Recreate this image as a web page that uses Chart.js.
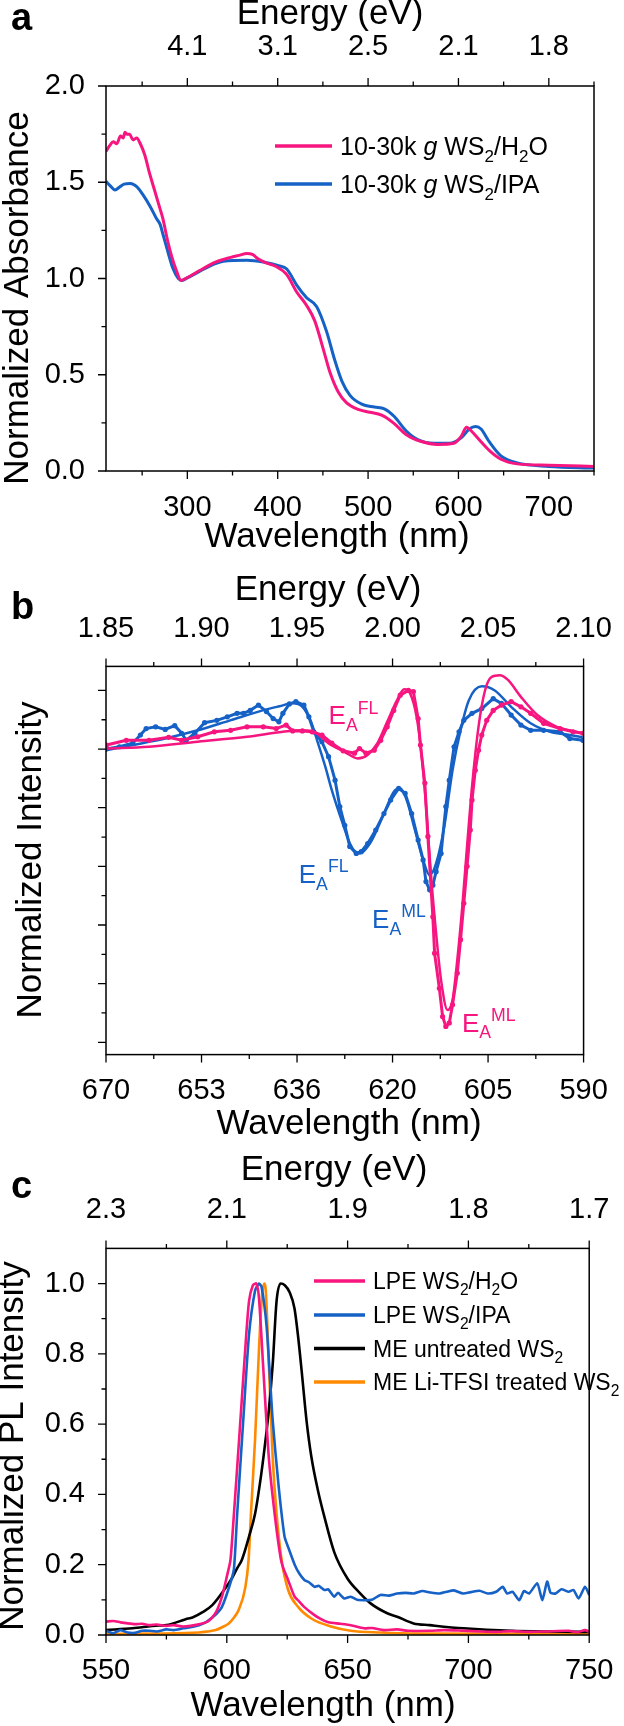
<!DOCTYPE html>
<html>
<head>
<meta charset="utf-8">
<script src="https://cdn.jsdelivr.net/npm/chart.js@4.4.1/dist/chart.umd.min.js"></script>
<style>
  body { margin: 0; background: #fff; }
  canvas { position: absolute; left: 0; }
</style>
</head>
<body>
<canvas id="chartA" width="624" height="560" style="top:0"></canvas>
<canvas id="chartB" width="624" height="590" style="top:560px"></canvas>
<canvas id="chartC" width="624" height="586" style="top:1140px"></canvas>
<script>
// ---- panel a : absorbance ----
const aH2OWave = [210, 214, 218, 222, 226, 229, 231, 233, 236, 240, 244, 248, 253, 258, 263, 268, 273, 278, 283, 288, 293, 300, 313, 331, 348, 357, 366, 372, 379, 388, 397, 410, 421, 432, 441, 450, 458, 467, 476, 489, 502, 515, 529, 542, 559, 577, 595, 603, 609, 614, 623, 634, 647, 665, 700, 750];
const aH2OAbs = [1.66, 1.69, 1.71, 1.70, 1.74, 1.73, 1.76, 1.75, 1.75, 1.72, 1.73, 1.70, 1.64, 1.55, 1.47, 1.39, 1.31, 1.20, 1.11, 1.04, 0.99, 1.005, 1.04, 1.085, 1.11, 1.12, 1.13, 1.125, 1.10, 1.08, 1.065, 1.02, 0.93, 0.86, 0.78, 0.64, 0.51, 0.41, 0.355, 0.32, 0.305, 0.29, 0.246, 0.19, 0.153, 0.138, 0.144, 0.18, 0.227, 0.209, 0.162, 0.107, 0.061, 0.037, 0.03, 0.024];
const aIPAWave = [210, 215, 220, 225, 230, 237, 244, 251, 259, 266, 270, 273, 279, 284, 290, 294, 300, 313, 331, 340, 366, 384, 401, 410, 421, 432, 443, 454, 463, 471, 480, 493, 507, 518, 529, 542, 555, 573, 590, 603, 612, 619, 625, 634, 647, 665, 700, 750];
const aIPAAbs = [1.505, 1.48, 1.46, 1.475, 1.49, 1.494, 1.477, 1.434, 1.373, 1.31, 1.28, 1.23, 1.13, 1.053, 1.0, 0.99, 1.003, 1.036, 1.077, 1.09, 1.095, 1.086, 1.067, 1.049, 0.966, 0.90, 0.855, 0.726, 0.578, 0.467, 0.393, 0.347, 0.332, 0.323, 0.283, 0.209, 0.163, 0.144, 0.144, 0.172, 0.218, 0.231, 0.218, 0.153, 0.079, 0.042, 0.024, 0.015];
const aWaveTicks = [300, 400, 500, 600, 700];
const aWaveMinor = [250, 350, 450, 550, 650, 750];
const aEnergyLabels = ['4.1', '3.1', '2.5', '2.1', '1.8'];
const aAbsTicks = [0, 0.5, 1.0, 1.5, 2.0];
const aAbsMinor = [0.25, 0.75, 1.25, 1.75];

// ---- panel b : energy (eV) vs normalized intensity ----
const bBlueDataE = [1.850, 1.857, 1.864, 1.868, 1.871, 1.876, 1.881, 1.886, 1.8896, 1.892, 1.8965, 1.9016, 1.908, 1.9135, 1.9186, 1.922, 1.9255, 1.9298, 1.934, 1.9375, 1.9405, 1.9426, 1.946, 1.9494, 1.9536, 1.9562, 1.9588, 1.963, 1.9665, 1.9699, 1.9724, 1.975, 1.9776, 1.981, 1.9836, 1.987, 1.9912, 1.9955, 1.999, 2.0032, 2.0066, 2.010, 2.0134, 2.016, 2.0175, 2.0194, 2.0211, 2.0228, 2.0254, 2.0279, 2.0297, 2.0322, 2.0348, 2.0373, 2.0416, 2.0467, 2.0527, 2.057, 2.0621, 2.0672, 2.0723, 2.0791, 2.0877, 2.0928, 2.0996];
const bBlueDataI = [0.00, 0.04, 0.10, 0.24, 0.35, 0.38, 0.335, 0.40, 0.27, 0.15, 0.27, 0.45, 0.49, 0.55, 0.61, 0.61, 0.66, 0.75, 0.64, 0.52, 0.465, 0.61, 0.77, 0.81, 0.75, 0.55, 0.295, 0.125, -0.13, -0.53, -0.98, -1.30, -1.66, -1.78, -1.75, -1.61, -1.38, -1.10, -0.87, -0.67, -0.755, -1.10, -1.55, -1.89, -2.26, -2.40, -2.32, -2.09, -1.78, -0.98, -0.53, 0.04, 0.295, 0.49, 0.61, 0.69, 0.86, 0.78, 0.58, 0.41, 0.32, 0.32, 0.295, 0.18, 0.15];
const bBlueFitE = [1.850, 1.864, 1.881, 1.898, 1.915, 1.932, 1.9408, 1.9477, 1.9528, 1.957, 1.9605, 1.9648, 1.9682, 1.9733, 1.9784, 1.9827, 1.9887, 1.9955, 2.0006, 2.004, 2.0074, 2.0117, 2.016, 2.0194, 2.0228, 2.0271, 2.0314, 2.0356, 2.0399, 2.0467, 2.0535, 2.0621, 2.0723, 2.0826, 2.0928, 2.0996];
const bBlueFitI = [-0.02, 0.07, 0.18, 0.32, 0.49, 0.66, 0.73, 0.78, 0.72, 0.49, 0.15, -0.30, -0.70, -1.21, -1.66, -1.78, -1.58, -1.10, -0.73, -0.67, -0.87, -1.38, -1.89, -2.15, -1.95, -1.32, -0.36, 0.32, 0.83, 1.07, 1.00, 0.72, 0.44, 0.295, 0.24, 0.20];
const bPinkDataE = [1.8503, 1.8606, 1.8725, 1.8828, 1.8896, 1.898, 1.9067, 1.9152, 1.9238, 1.9323, 1.9391, 1.9443, 1.9477, 1.9528, 1.9579, 1.9631, 1.9682, 1.9741, 1.9801, 1.9827, 1.9861, 1.9904, 1.9938, 1.9972, 2.0006, 2.004, 2.0083, 2.0109, 2.0134, 2.0146, 2.0169, 2.0185, 2.0211, 2.022, 2.0245, 2.0262, 2.0279, 2.0297, 2.0314, 2.0339, 2.0356, 2.0373, 2.039, 2.0407, 2.0416, 2.0433, 2.045, 2.0467, 2.0493, 2.0527, 2.057, 2.0621, 2.0672, 2.0723, 2.0791, 2.0877, 2.0945, 2.0996];
const bPinkDataI = [0.07, 0.15, 0.15, 0.20, 0.15, 0.21, 0.295, 0.32, 0.38, 0.38, 0.35, 0.41, 0.31, 0.31, 0.295, 0.24, 0.10, -0.03, -0.07, 0.01, -0.07, -0.02, 0.15, 0.38, 0.66, 0.92, 1.0, 0.98, 0.52, 0.07, -0.58, -1.49, -2.86, -3.48, -4.08, -4.56, -4.73, -4.67, -4.36, -3.82, -3.25, -2.63, -2.0, -1.38, -0.87, -0.36, -0.02, 0.24, 0.49, 0.66, 0.75, 0.81, 0.72, 0.61, 0.44, 0.35, 0.295, 0.27];
const bPinkFitE = [1.8503, 1.8725, 1.898, 1.9238, 1.9426, 1.9528, 1.9596, 1.9664, 1.975, 1.9818, 1.9869, 1.9921, 1.9972, 2.0023, 2.0061, 2.0092, 2.0126, 2.0151, 2.0177, 2.0202, 2.0228, 2.0254, 2.0288, 2.0314, 2.0339, 2.0365, 2.039, 2.0416, 2.045, 2.0484, 2.0518, 2.0561, 2.0604, 2.0672, 2.0758, 2.086, 2.0962, 2.0996];
const bPinkFitI = [0.01, 0.04, 0.125, 0.21, 0.295, 0.32, 0.28, 0.10, -0.05, -0.16, -0.10, 0.10, 0.465, 0.83, 1.02, 0.95, 0.55, -0.07, -1.04, -2.18, -3.14, -3.94, -4.45, -4.28, -3.59, -2.69, -1.66, -0.64, 0.38, 1.0, 1.23, 1.26, 1.18, 0.89, 0.58, 0.38, 0.295, 0.27];
const bEnergyTicks = [1.85, 1.90, 1.95, 2.00, 2.05, 2.10];
const bEnergyMinor = [1.875, 1.925, 1.975, 2.025, 2.075];
const bEnergyLabels = ['1.85', '1.90', '1.95', '2.00', '2.05', '2.10'];
const bWaveLabels = ['670', '653', '636', '620', '605', '590'];
const bIntTicks = [1, 0, -1, -2, -3, -4, -5];
const bIntMinor = [0.5, -0.5, -1.5, -2.5, -3.5, -4.5];

// ---- panel c : PL ----
const cH2OWave = [550, 553, 556, 559, 562, 565, 568, 571, 575, 578, 582, 585, 589, 592, 594, 596, 598, 600, 601.5, 602.7, 605.1, 607.6, 609.2, 610.8, 612.2, 613.3, 615, 617.4, 619.8, 622.3, 623.4, 625.4, 628, 630, 632, 636, 639, 642, 647, 651.3, 656.8, 660, 665, 670.5, 675, 684, 690, 698, 705, 711.5, 718, 725, 732, 741.5, 745, 748.3, 750];
const cH2OInt = [0.038, 0.040, 0.036, 0.033, 0.031, 0.032, 0.028, 0.030, 0.026, 0.028, 0.024, 0.026, 0.031, 0.038, 0.05, 0.071, 0.109, 0.166, 0.213, 0.32, 0.557, 0.81, 0.95, 0.995, 1.0, 0.96, 0.77, 0.504, 0.345, 0.218, 0.19, 0.156, 0.11, 0.095, 0.08, 0.058, 0.045, 0.036, 0.032, 0.028, 0.019, 0.02, 0.014, 0.016, 0.012, 0.012, 0.014, 0.012, 0.010, 0.009, 0.011, 0.009, 0.010, 0.012, 0.008, 0.014, 0.009];
const cIPAWave = [550, 553, 556, 559, 562, 565, 568, 571, 575, 578, 582, 585, 588.5, 591, 594, 596, 598, 600.8, 602.9, 604.3, 606.8, 609.2, 611.7, 613.3, 614.4, 616.5, 619, 621.5, 623.9, 625.4, 628.1, 630, 632.2, 634, 636.3, 638, 640.4, 642, 644.5, 646, 648.6, 651.3, 654, 656.8, 660, 663.6, 667, 670.5, 674, 677.3, 681, 684.1, 688, 691, 694, 697.8, 701, 704.6, 708, 711.5, 714.2, 716, 718.3, 721, 723, 725.1, 728.5, 730.6, 732.6, 734, 736.1, 738.5, 741.5, 743.5, 745.6, 748.3, 750];
const cIPAInt = [0.012, 0.005, 0.014, 0.007, 0.006, 0.012, 0.012, 0.010, 0.016, 0.014, 0.019, 0.022, 0.028, 0.035, 0.05, 0.062, 0.08, 0.133, 0.185, 0.345, 0.61, 0.855, 0.98, 1.0, 0.99, 0.876, 0.61, 0.42, 0.28, 0.25, 0.2, 0.175, 0.156, 0.15, 0.137, 0.14, 0.128, 0.13, 0.109, 0.12, 0.104, 0.109, 0.10, 0.099, 0.10, 0.114, 0.112, 0.118, 0.12, 0.118, 0.125, 0.121, 0.118, 0.123, 0.127, 0.118, 0.122, 0.126, 0.118, 0.123, 0.137, 0.118, 0.123, 0.099, 0.125, 0.118, 0.147, 0.099, 0.152, 0.12, 0.118, 0.13, 0.123, 0.128, 0.104, 0.137, 0.114];
const cMEWave = [550, 561, 571.7, 575, 583, 585.8, 590, 594, 599.4, 602, 604.3, 606.3, 609.2, 611.7, 614.1, 615.7, 617.4, 619, 620.6, 622.3, 624, 626, 628, 629.5, 631, 633, 635, 637.7, 640.4, 644.5, 650, 655, 659.5, 666.4, 670.5, 677.3, 684, 698, 718, 750];
const cMEInt = [0.014, 0.019, 0.027, 0.028, 0.045, 0.05, 0.065, 0.085, 0.133, 0.16, 0.19, 0.215, 0.28, 0.345, 0.45, 0.536, 0.64, 0.77, 0.95, 1.0, 0.995, 0.975, 0.93, 0.85, 0.75, 0.61, 0.507, 0.412, 0.336, 0.235, 0.16, 0.12, 0.09, 0.062, 0.052, 0.033, 0.028, 0.019, 0.012, 0.009];
const cTFSIWave = [550, 570, 588.5, 592, 595.4, 598, 600.8, 603, 604.9, 607.7, 609, 610, 611.7, 613.3, 614.5, 615.5, 616, 617.4, 619, 620.6, 622.7, 625.4, 629.5, 635, 643.1, 651.3, 663.6, 680, 750];
const cTFSIInt = [0.003, 0.004, 0.007, 0.010, 0.014, 0.022, 0.033, 0.05, 0.071, 0.137, 0.213, 0.345, 0.557, 0.81, 0.96, 1.0, 0.99, 0.77, 0.504, 0.345, 0.213, 0.128, 0.08, 0.047, 0.024, 0.012, 0.007, 0.004, 0.003];
const cWaveTicks = [550, 600, 650, 700, 750];
const cWaveMinor = [575, 625, 675, 725];
const cEnergyLabels = ['2.3', '2.1', '1.9', '1.8', '1.7'];
const cIntTicks = [0, 0.2, 0.4, 0.6, 0.8, 1.0];
const cIntMinor = [0.1, 0.3, 0.5, 0.7, 0.9];

const PINK = '#F7157F';
const BLUE = '#1661C6';
const ORANGE = '#FF8A00';
const FONT = '"Liberation Sans", Arial, sans-serif';

function pts(xs, ys) {
  return xs.map((x, i) => ({ x: x, y: ys[i] }));
}

function richText(ctx, parts, x, y, size, color) {
  ctx.fillStyle = color;
  ctx.textAlign = 'left';
  ctx.textBaseline = 'alphabetic';
  for (const [t, k] of parts) {
    const small = k === 'sub' || k === 'sup';
    const fs = small ? size * 0.68 : size;
    ctx.font = (k === 'i' ? 'italic ' : '') + fs + 'px ' + FONT;
    const dy = k === 'sub' ? size * 0.26 : (k === 'sup' ? -size * 0.42 : 0);
    ctx.fillText(t, x, y + dy);
    x += ctx.measureText(t).width;
  }
}

// frame, tick marks, titles, legend, notes
const decor = {
  id: 'decor',
  afterDraw(chart, args, o) {
    const ctx = chart.ctx, a = chart.chartArea;
    ctx.save();
    ctx.strokeStyle = '#000';
    ctx.lineWidth = 1.5;
    ctx.strokeRect(a.left, a.top, a.right - a.left, a.bottom - a.top);
    ctx.lineWidth = 1.3;
    ctx.beginPath();
    for (const t of o.ticks) {
      const s = chart.scales[t.scale];
      for (const [vals, len] of [[t.major, 8], [t.minor, 4.5]]) {
        for (const v of vals) {
          const p = s.getPixelForValue(v);
          if (t.side === 'bottom') { ctx.moveTo(p, a.bottom); ctx.lineTo(p, a.bottom + len); }
          else if (t.side === 'top') { ctx.moveTo(p, a.top); ctx.lineTo(p, a.top - len); }
          else { ctx.moveTo(a.left, p); ctx.lineTo(a.left - len, p); }
        }
      }
    }
    ctx.stroke();

    ctx.fillStyle = '#000';
    ctx.textAlign = 'center';
    ctx.textBaseline = 'middle';
    ctx.font = '35px ' + FONT;
    for (const t of o.titles) {
      ctx.save();
      ctx.translate(t.x, t.y);
      if (t.rot) ctx.rotate(-Math.PI / 2);
      ctx.fillText(t.text, 0, 0);
      ctx.restore();
    }

    ctx.textAlign = 'left';
    ctx.textBaseline = 'alphabetic';
    ctx.font = 'bold 38px ' + FONT;
    ctx.fillText(o.letter.text, o.letter.x, o.letter.y);

    if (o.legend) {
      const L = o.legend;
      L.items.forEach((it, i) => {
        const col = chart.data.datasets[it.ds].borderColor;
        const y = L.rows[i];
        ctx.strokeStyle = col;
        ctx.lineWidth = 3.5;
        ctx.beginPath();
        ctx.moveTo(L.x0, y);
        ctx.lineTo(L.x1, y);
        ctx.stroke();
        richText(ctx, it.parts, L.tx, y + L.size * 0.36, L.size, '#000');
      });
    }

    if (o.notes) {
      const sx = chart.scales.x, sy = chart.scales.y;
      for (const n of o.notes) {
        richText(ctx, n.parts, sx.getPixelForValue(n.x), sy.getPixelForValue(n.y), n.size, n.color);
      }
    }
    ctx.restore();
  }
};

function tickFont() {
  return { family: FONT, size: 29 };
}

// ================= panel a =================
new Chart(document.getElementById('chartA'), {
  type: 'scatter',
  data: {
    datasets: [
      { label: '10-30k g WS2/H2O', data: pts(aH2OWave, aH2OAbs), showLine: true, borderColor: PINK, borderWidth: 3, pointRadius: 0, cubicInterpolationMode: 'monotone' },
      { label: '10-30k g WS2/IPA', data: pts(aIPAWave, aIPAAbs), showLine: true, borderColor: BLUE, borderWidth: 3, pointRadius: 0, cubicInterpolationMode: 'monotone' }
    ]
  },
  options: {
    responsive: false, animation: false, devicePixelRatio: 1,
    layout: { padding: { left: 0, right: 30, top: 0, bottom: 0 } },
    plugins: {
      legend: { display: false }, tooltip: { enabled: false },
      decor: {
        ticks: [
          { scale: 'x', side: 'bottom', major: aWaveTicks, minor: aWaveMinor },
          { scale: 'x', side: 'top', major: aWaveTicks, minor: aWaveMinor },
          { scale: 'y', side: 'left', major: aAbsTicks, minor: aAbsMinor }
        ],
        titles: [
          { text: 'Energy (eV)', x: 330, y: 14 },
          { text: 'Wavelength (nm)', x: 337, y: 537 },
          { text: 'Normalized Absorbance', x: 18, y: 298, rot: true }
        ],
        letter: { text: 'a', x: 11, y: 30 },
        legend: {
          x0: 275, x1: 332, tx: 340, size: 25, rows: [146, 184],
          items: [
            { ds: 0, parts: [['10-30k ', ''], ['g', 'i'], [' WS', ''], ['2', 'sub'], ['/H', ''], ['2', 'sub'], ['O', '']] },
            { ds: 1, parts: [['10-30k ', ''], ['g', 'i'], [' WS', ''], ['2', 'sub'], ['/IPA', '']] }
          ]
        }
      }
    },
    scales: {
      x: {
        type: 'linear', position: 'bottom', min: 210, max: 750,
        grid: { display: false }, border: { display: false },
        afterBuildTicks: s => { s.ticks = aWaveTicks.map(v => ({ value: v })); },
        afterFit: s => { s.height = 89; },
        ticks: { font: tickFont(), color: '#000', padding: 12, maxRotation: 0, callback: v => String(v) }
      },
      xTop: {
        type: 'linear', position: 'top', min: 210, max: 750,
        grid: { display: false }, border: { display: false },
        afterBuildTicks: s => { s.ticks = aWaveTicks.map(v => ({ value: v })); },
        afterFit: s => { s.height = 86; },
        ticks: { font: tickFont(), color: '#000', padding: 13.5, maxRotation: 0, callback: (v, i) => aEnergyLabels[i] }
      },
      y: {
        type: 'linear', min: 0, max: 2,
        grid: { display: false }, border: { display: false },
        afterBuildTicks: s => { s.ticks = aAbsTicks.map(v => ({ value: v })); },
        afterFit: s => { s.width = 106; },
        ticks: { font: tickFont(), color: '#000', padding: 13, callback: v => v.toFixed(1) }
      }
    }
  },
  plugins: [decor]
});

// ================= panel b =================
new Chart(document.getElementById('chartB'), {
  type: 'scatter',
  data: {
    datasets: [
      { label: 'WS2/H2O data', data: pts(bPinkDataE, bPinkDataI), showLine: true, borderColor: PINK, backgroundColor: PINK, borderWidth: 3, pointRadius: 2.6, pointBorderWidth: 0, tension: 0 },
      { label: 'WS2/H2O fit', data: pts(bPinkFitE, bPinkFitI), showLine: true, borderColor: PINK, borderWidth: 2.5, pointRadius: 0, cubicInterpolationMode: 'monotone' },
      { label: 'WS2/IPA data', data: pts(bBlueDataE, bBlueDataI), showLine: true, borderColor: BLUE, backgroundColor: BLUE, borderWidth: 3, pointRadius: 2.6, pointBorderWidth: 0, tension: 0 },
      { label: 'WS2/IPA fit', data: pts(bBlueFitE, bBlueFitI), showLine: true, borderColor: BLUE, borderWidth: 2.5, pointRadius: 0, cubicInterpolationMode: 'monotone' }
    ]
  },
  options: {
    responsive: false, animation: false, devicePixelRatio: 1,
    layout: { padding: { left: 0, right: 30, top: 0, bottom: 0 } },
    plugins: {
      legend: { display: false }, tooltip: { enabled: false },
      decor: {
        ticks: [
          { scale: 'x', side: 'bottom', major: bEnergyTicks, minor: bEnergyMinor },
          { scale: 'x', side: 'top', major: bEnergyTicks, minor: bEnergyMinor },
          { scale: 'y', side: 'left', major: bIntTicks, minor: bIntMinor }
        ],
        titles: [
          { text: 'Energy (eV)', x: 328, y: 30 },
          { text: 'Wavelength (nm)', x: 349, y: 564 },
          { text: 'Normalized Intensity', x: 31, y: 300, rot: true }
        ],
        letter: { text: 'b', x: 11, y: 59 },
        notes: [
          { x: 1.9665, y: 0.42, size: 26, color: PINK, parts: [['E', ''], ['A', 'sub'], ['FL', 'sup']] },
          { x: 1.9509, y: -2.28, size: 26, color: BLUE, parts: [['E', ''], ['A', 'sub'], ['FL', 'sup']] },
          { x: 1.9893, y: -3.05, size: 26, color: BLUE, parts: [['E', ''], ['A', 'sub'], ['ML', 'sup']] },
          { x: 2.0363, y: -4.82, size: 26, color: PINK, parts: [['E', ''], ['A', 'sub'], ['ML', 'sup']] }
        ]
      }
    },
    scales: {
      x: {
        type: 'linear', position: 'bottom', min: 1.85, max: 2.10,
        grid: { display: false }, border: { display: false },
        afterBuildTicks: s => { s.ticks = bEnergyTicks.map(v => ({ value: v })); },
        afterFit: s => { s.height = 95.4; },
        ticks: { font: tickFont(), color: '#000', padding: 10.5, maxRotation: 0, callback: (v, i) => bWaveLabels[i] }
      },
      xTop: {
        type: 'linear', position: 'top', min: 1.85, max: 2.10,
        grid: { display: false }, border: { display: false },
        afterBuildTicks: s => { s.ticks = bEnergyTicks.map(v => ({ value: v })); },
        afterFit: s => { s.height = 106.4; },
        ticks: { font: tickFont(), color: '#000', padding: 12.2, maxRotation: 0, callback: (v, i) => bEnergyLabels[i] }
      },
      y: {
        type: 'linear', min: -5.21, max: 1.41,
        grid: { display: false }, border: { display: false },
        afterFit: s => { s.width = 106; },
        ticks: { display: false }
      }
    }
  },
  plugins: [decor]
});

// ================= panel c =================
new Chart(document.getElementById('chartC'), {
  type: 'scatter',
  data: {
    datasets: [
      { label: 'LPE WS2/H2O', data: pts(cH2OWave, cH2OInt), showLine: true, borderColor: PINK, borderWidth: 2.6, pointRadius: 0, tension: 0.25 },
      { label: 'LPE WS2/IPA', data: pts(cIPAWave, cIPAInt), showLine: true, borderColor: BLUE, borderWidth: 2.6, pointRadius: 0, tension: 0.2 },
      { label: 'ME untreated WS2', data: pts(cMEWave, cMEInt), showLine: true, borderColor: '#000', borderWidth: 2.6, pointRadius: 0, cubicInterpolationMode: 'monotone' },
      { label: 'ME Li-TFSI treated WS2', data: pts(cTFSIWave, cTFSIInt), showLine: true, borderColor: ORANGE, borderWidth: 2.6, pointRadius: 0, cubicInterpolationMode: 'monotone' }
    ]
  },
  options: {
    responsive: false, animation: false, devicePixelRatio: 1,
    layout: { padding: { left: 0, right: 30, top: 0, bottom: 0 } },
    plugins: {
      legend: { display: false }, tooltip: { enabled: false },
      decor: {
        ticks: [
          { scale: 'x', side: 'bottom', major: cWaveTicks, minor: cWaveMinor },
          { scale: 'x', side: 'top', major: cWaveTicks, minor: cWaveMinor },
          { scale: 'y', side: 'left', major: cIntTicks, minor: cIntMinor }
        ],
        titles: [
          { text: 'Energy (eV)', x: 334, y: 30 },
          { text: 'Wavelength (nm)', x: 323, y: 566 },
          { text: 'Normalized PL Intensity', x: 13, y: 306, rot: true }
        ],
        letter: { text: 'c', x: 11, y: 58 },
        legend: {
          x0: 314, x1: 365, tx: 373, size: 23, rows: [141, 175, 208.5, 242],
          items: [
            { ds: 0, parts: [['LPE WS', ''], ['2', 'sub'], ['/H', ''], ['2', 'sub'], ['O', '']] },
            { ds: 1, parts: [['LPE WS', ''], ['2', 'sub'], ['/IPA', '']] },
            { ds: 2, parts: [['ME untreated WS', ''], ['2', 'sub']] },
            { ds: 3, parts: [['ME Li-TFSI treated WS', ''], ['2', 'sub']] }
          ]
        }
      }
    },
    scales: {
      x: {
        type: 'linear', position: 'bottom', min: 550, max: 750,
        grid: { display: false }, border: { display: false },
        afterBuildTicks: s => { s.ticks = cWaveTicks.map(v => ({ value: v })); },
        afterFit: s => { s.height = 91; },
        ticks: { font: tickFont(), color: '#000', padding: 10.6, maxRotation: 0, callback: v => String(v) }
      },
      xTop: {
        type: 'linear', position: 'top', min: 550, max: 750,
        grid: { display: false }, border: { display: false },
        afterBuildTicks: s => { s.ticks = cWaveTicks.map(v => ({ value: v })); },
        afterFit: s => { s.height = 108.4; },
        ticks: { font: tickFont(), color: '#000', padding: 12.7, maxRotation: 0, callback: (v, i) => cEnergyLabels[i] }
      },
      y: {
        type: 'linear', min: 0, max: 1.1,
        grid: { display: false }, border: { display: false },
        afterBuildTicks: s => { s.ticks = cIntTicks.map(v => ({ value: v })); },
        afterFit: s => { s.width = 106; },
        ticks: { font: tickFont(), color: '#000', padding: 13, callback: v => v.toFixed(1) }
      }
    }
  },
  plugins: [decor]
});
</script>
</body>
</html>
